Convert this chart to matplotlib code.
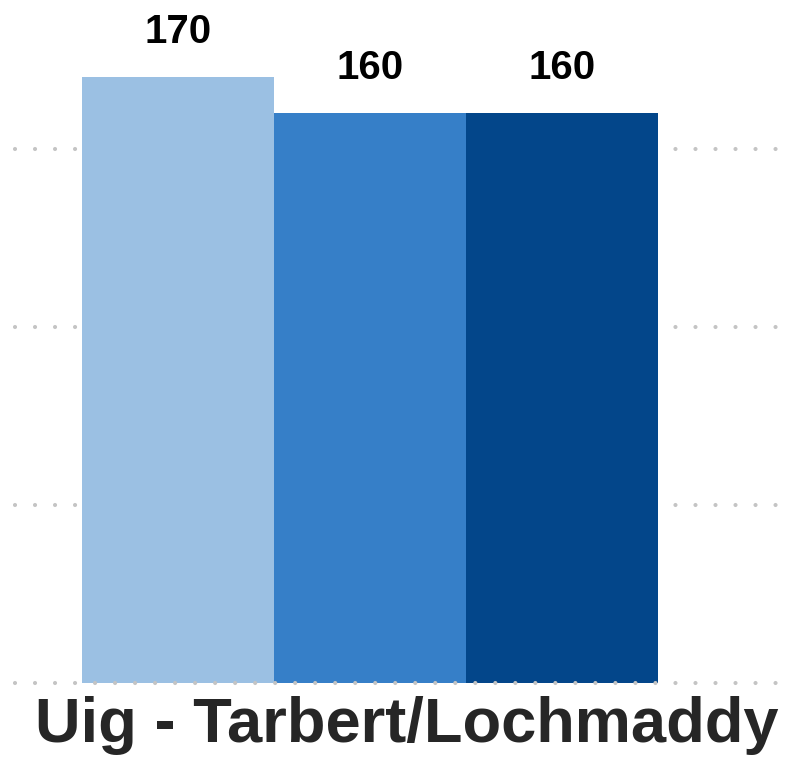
import numpy as np
import matplotlib
matplotlib.use('Agg')
import matplotlib.pyplot as plt

plt.rcParams['font.family'] = ['Liberation Sans', 'DejaVu Sans']
plt.rcParams['lines.scale_dashes'] = False

categoria = 'Uig - Tarbert/Lochmaddy'
valori = [170, 160, 160]
colori = ['#9bc0e3', '#367fc8', '#03468a']
griglia = [0, 50, 100, 150]

fig = plt.figure(figsize=(7.94, 7.61), dpi=100)
# assi in pixel: sinistra 15, destra 779, base 683
ax = fig.add_axes([15/794, 1-683/761, 764/794, 677/761])

x = np.arange(len(valori))
ax.bar(x, valori, width=1.0, color=colori, zorder=2)
for xi, v in zip(x, valori):
    ax.text(xi, v + 9.5, str(v), ha='center', va='baseline',
            fontsize=29, fontweight='bold', color='black')

for g in griglia:
    ax.axhline(g, color='#c4c4c4', linewidth=3, linestyle=(0, (0.01, 14.4)),
               dash_capstyle='round', clip_on=False,
               zorder=3 if g == 0 else 1)

ax.set_xlim(-0.5 - 67/192, 2.5 + 121/192)
ax.set_ylim(0, 190)
ax.axis('off')

fig.text(407/794, 1-742/761, categoria, ha='center', va='baseline',
         fontsize=45.5, fontweight='bold', color='#262626')

fig.savefig('out.png', dpi=100)
